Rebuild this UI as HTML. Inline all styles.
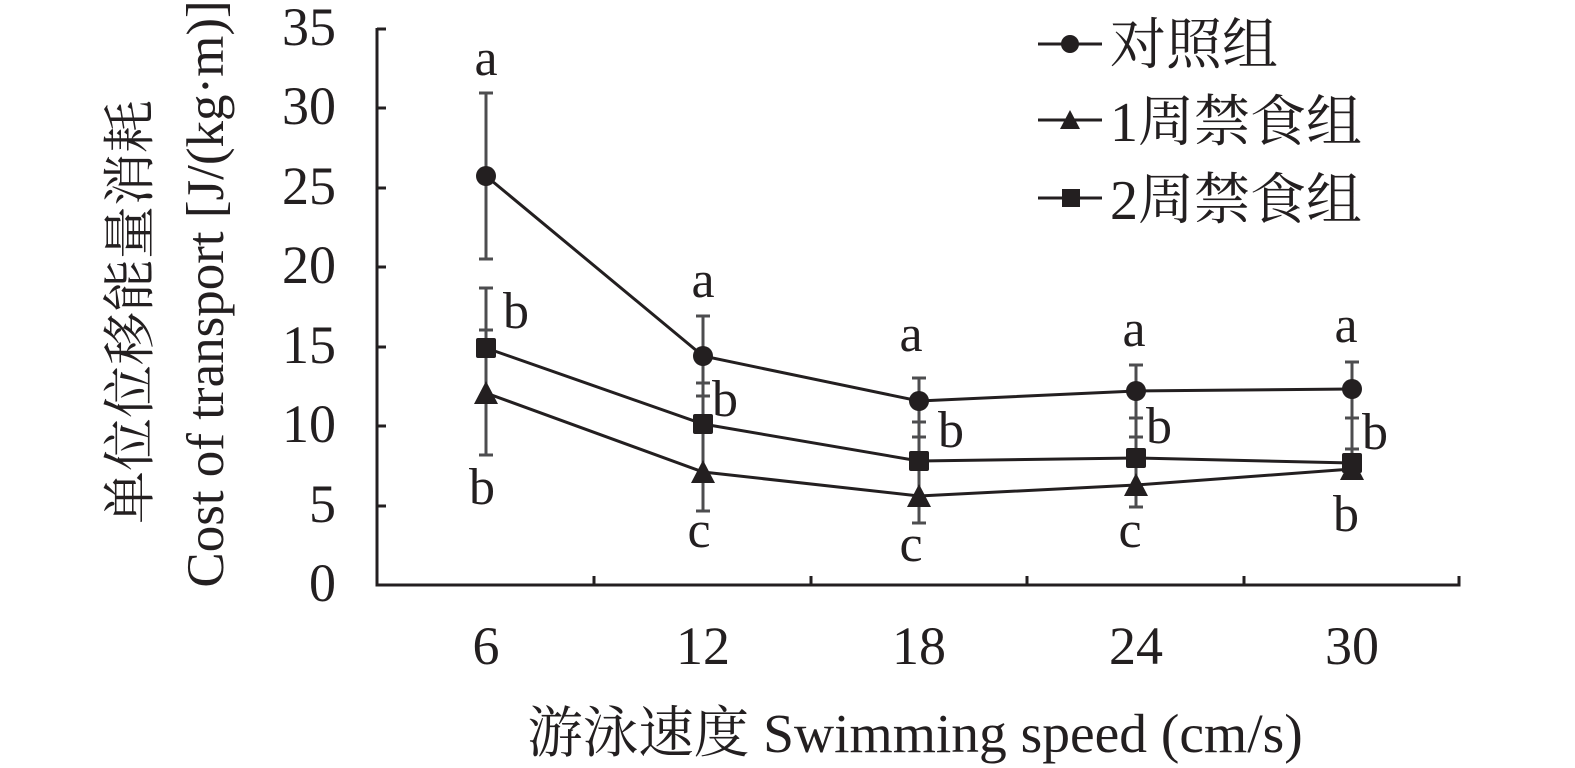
<!DOCTYPE html>
<html><head><meta charset="utf-8"><style>html,body{margin:0;padding:0;background:#fff}svg{display:block}</style></head>
<body>
<svg width="1575" height="768" xmlns="http://www.w3.org/2000/svg" font-family="Liberation Serif, Noto Serif CJK SC, serif" fill="#231f20">
<g stroke="#231f20" stroke-width="3" fill="none">
<polyline points="377,28 377,585 1459,585 1459,576"/>
<line x1="377" y1="506" x2="386" y2="506"/><line x1="377" y1="426" x2="386" y2="426"/><line x1="377" y1="347" x2="386" y2="347"/>
<line x1="377" y1="267" x2="386" y2="267"/><line x1="377" y1="188" x2="386" y2="188"/><line x1="377" y1="108" x2="386" y2="108"/><line x1="377" y1="29" x2="386" y2="29"/>
<line x1="594" y1="585" x2="594" y2="576"/><line x1="811" y1="585" x2="811" y2="576"/><line x1="1027" y1="585" x2="1027" y2="576"/><line x1="1244" y1="585" x2="1244" y2="576"/>
</g>
<g font-size="54" text-anchor="end">
<text x="336" y="601">0</text><text x="336" y="522">5</text><text x="336" y="442">10</text><text x="336" y="363">15</text>
<text x="336" y="283">20</text><text x="336" y="204">25</text><text x="336" y="124">30</text><text x="336" y="45">35</text>
</g>
<g font-size="54" text-anchor="middle">
<text x="486" y="664">6</text><text x="703" y="664">12</text><text x="919" y="664">18</text><text x="1136" y="664">24</text><text x="1352" y="664">30</text>
</g>
<text x="915" y="752" font-size="55.5" text-anchor="middle">游泳速度 Swimming speed (cm/s)</text>
<g font-size="53" text-anchor="middle">
<text transform="translate(148,312) rotate(-90)">单位位移能量消耗</text>
<text transform="translate(223,294) rotate(-90)">Cost of transport [J/(kg·m)]</text>
</g>
<g stroke="#4d4d4f" stroke-width="3">
<line x1="486" y1="93" x2="486" y2="259"/><line x1="479" y1="93" x2="493" y2="93"/><line x1="479" y1="259" x2="493" y2="259"/>
<line x1="486" y1="288" x2="486" y2="455"/><line x1="479" y1="288" x2="493" y2="288"/><line x1="479" y1="330" x2="493" y2="330"/><line x1="479" y1="455" x2="493" y2="455"/>
<line x1="703" y1="316" x2="703" y2="511"/><line x1="696" y1="316" x2="710" y2="316"/><line x1="696" y1="383" x2="710" y2="383"/><line x1="696" y1="396" x2="710" y2="396"/><line x1="696" y1="511" x2="710" y2="511"/>
<line x1="919" y1="378" x2="919" y2="523"/><line x1="912" y1="378" x2="926" y2="378"/><line x1="912" y1="422" x2="926" y2="422"/><line x1="912" y1="437" x2="926" y2="437"/><line x1="912" y1="523" x2="926" y2="523"/>
<line x1="1136" y1="365" x2="1136" y2="507"/><line x1="1129" y1="365" x2="1143" y2="365"/><line x1="1129" y1="418" x2="1143" y2="418"/><line x1="1129" y1="437" x2="1143" y2="437"/><line x1="1129" y1="507" x2="1143" y2="507"/>
<line x1="1352" y1="362" x2="1352" y2="480"/><line x1="1345" y1="362" x2="1359" y2="362"/><line x1="1345" y1="418" x2="1359" y2="418"/><line x1="1345" y1="449" x2="1359" y2="449"/>
</g>
<g stroke="#231f20" stroke-width="3" fill="none">
<polyline points="486,176 703,356 919,401 1136,391 1352,389"/>
<polyline points="486,393 703,472 919,496 1136,485 1352,469"/>
<polyline points="486,348 703,424 919,461 1136,458 1352,463"/>
</g>
<g fill="#231f20">
<circle cx="486" cy="176" r="10"/><circle cx="703" cy="356" r="10"/><circle cx="919" cy="401" r="10"/><circle cx="1136" cy="391" r="10"/><circle cx="1352" cy="389" r="10"/>
<polygon points="486,381 474,404 498,404"/><polygon points="703,460 691,483 715,483"/><polygon points="919,484 907,507 931,507"/><polygon points="1136,473 1124,496 1148,496"/><polygon points="1352,457 1340,480 1364,480"/>
<rect x="476" y="338" width="20" height="20" rx="2"/><rect x="693" y="414" width="20" height="20" rx="2"/><rect x="909" y="451" width="20" height="20" rx="2"/><rect x="1126" y="448" width="20" height="20" rx="2"/><rect x="1342" y="453" width="20" height="20" rx="2"/>
</g>
<g font-size="52" text-anchor="middle">
<text x="486" y="75">a</text><text x="703" y="297">a</text><text x="911" y="351">a</text><text x="1134" y="346">a</text><text x="1346" y="342">a</text>
<text x="516" y="328">b</text><text x="482" y="504">b</text>
<text x="725" y="416">b</text><text x="699" y="547">c</text>
<text x="951" y="447">b</text><text x="911" y="561">c</text>
<text x="1159" y="443">b</text><text x="1130" y="547">c</text>
<text x="1375" y="449">b</text><text x="1346" y="531">b</text>
</g>
<g stroke="#231f20" stroke-width="3">
<line x1="1038" y1="44" x2="1102" y2="44"/><line x1="1038" y1="120" x2="1102" y2="120"/><line x1="1038" y1="198" x2="1102" y2="198"/>
</g>
<circle cx="1070" cy="44" r="9"/>
<polygon points="1070,110 1060,129 1080,129"/>
<rect x="1062" y="189" width="18" height="18"/>
<g font-size="56">
<text x="1110" y="64">对照组</text>
<text x="1110" y="141">1周禁食组</text>
<text x="1110" y="219">2周禁食组</text>
</g>
</svg>
</body></html>
